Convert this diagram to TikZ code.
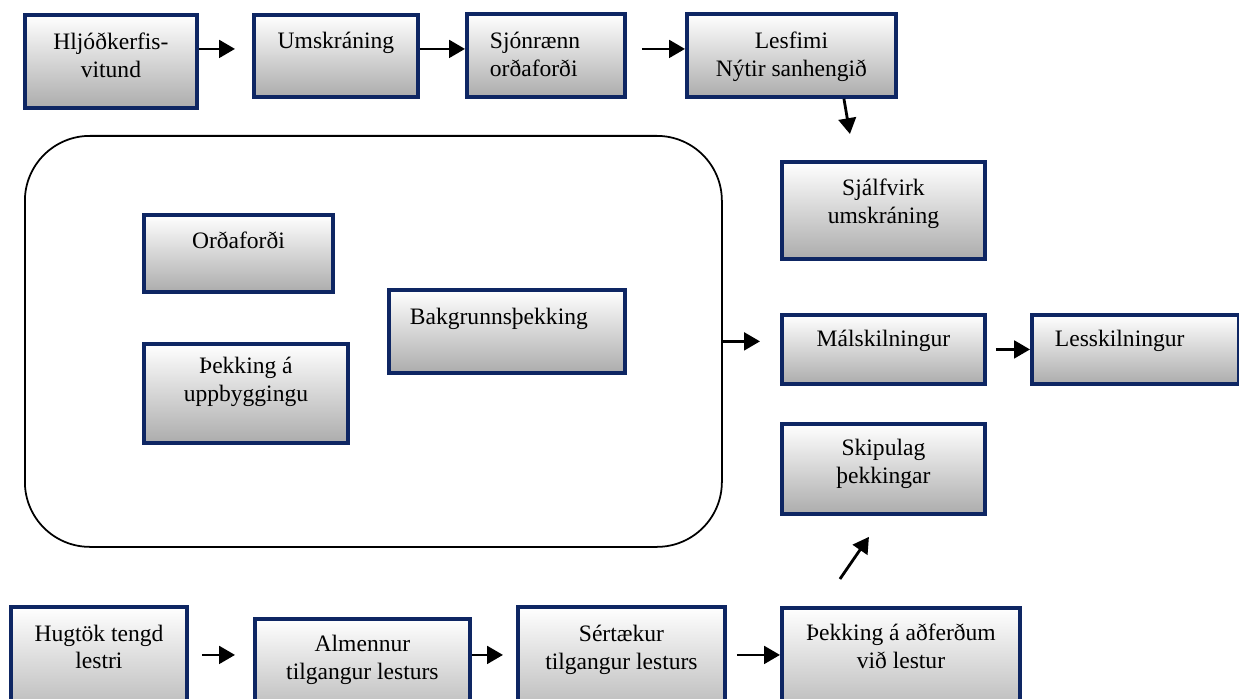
\documentclass[tikz,border=0pt]{standalone}
\usepackage{fontspec}
\setmainfont{Liberation Serif}
\usetikzlibrary{arrows.meta}
\definecolor{boxblue}{RGB}{14,38,99}

\begin{document}
\begin{tikzpicture}[
	box/.style={draw=boxblue, line width=2.2pt, anchor=north west, inner sep=0pt,
		top color=white, middle color=gray!25, bottom color=gray!65,
		align=center, font=\fontsize{13.4}{15.9}\selectfont},
	leftbox/.style={box, align=left, inner xsep=0.46cm},
	arr/.style={-{Triangle[length=9pt,width=10pt]}, line width=1.6pt}]
	\useasboundingbox (0,0) rectangle (24.78,-13.98);
	% big frame
	\node[draw, line width=1pt, rounded corners=1.3cm, anchor=north west,
		minimum width=13.94cm, minimum height=8.22cm] (bg) at (0.48,-2.70) {};
	% top row
	\node[box, minimum width=3.44cm, text height=1.26cm, text depth=0.60cm] (hljod) at (0.46,-0.26) {Hljóðkerfis-\\vitund};
	\node[box, minimum width=3.28cm, text height=0.68cm, text depth=0.96cm] (umskr) at (5.04,-0.26) {Umskráning};
	\node[leftbox, text width=2.24cm, text height=0.70cm, text depth=0.96cm] (sjon) at (9.30,-0.24) {Sjónrænn\\orðaforði};
	\node[box, minimum width=4.18cm, text height=1.26cm, text depth=0.40cm] (lesf) at (13.70,-0.24) {Lesfimi\\Nýtir sanhengið};
	% right column
	\node[box, minimum width=4.06cm, text height=1.24cm, text depth=0.70cm] (sjalf) at (15.60,-3.20) {Sjálfvirk\\umskráning};
	\node[box, minimum width=4.06cm, text height=0.64cm, text depth=0.74cm] (mals) at (15.60,-6.26) {Málskilningur};
	\node[leftbox, text width=3.22cm, text height=0.64cm, text depth=0.74cm] (lessk) at (20.60,-6.26) {Lesskilningur};
	\node[box, minimum width=4.06cm, text height=1.20cm, text depth=0.60cm] (skip) at (15.60,-8.44) {Skipulag\\þekkingar};
	% inside the frame
	\node[box, minimum width=3.78cm, text height=0.68cm, text depth=0.86cm] (ordaf) at (2.84,-4.26) {Orðaforði};
	\node[box, minimum width=4.08cm, text height=1.16cm, text depth=0.82cm] (thekk) at (2.84,-6.84) {Þekking á\\uppbyggingu};
	\node[leftbox, inner xsep=0.42cm, text width=3.88cm, text height=0.70cm, text depth=0.96cm] (bakgr) at (7.74,-5.76) {Bakgrunnsþekking};
	% bottom row
	\node[box, minimum width=3.52cm, text height=1.24cm, text depth=1.26cm] (hugt) at (0.18,-12.10) {Hugtök tengd\\lestri};
	\node[box, minimum width=4.30cm, text height=1.22cm, text depth=1.04cm] (almen) at (5.06,-12.34) {Almennur\\tilgangur lesturs};
	\node[box, minimum width=4.14cm, text height=1.26cm, text depth=1.24cm] (sert) at (10.32,-12.10) {Sértækur\\tilgangur lesturs};
	\node[box, minimum width=4.76cm, text height=1.22cm, text depth=1.26cm] (adfer) at (15.60,-12.12) {Þekking á aðferðum\\við lestur};
	\coordinate (low) at ([yshift=0.5cm]almen.base);
	% arrows
	\draw[arr, shorten >=0.34cm] (hljod.east |- umskr.base) -- (umskr.base west);
	\draw[arr] (umskr.base east) -- (sjon.west |- umskr.base);
	\draw[arr, shorten <=0.30cm] (sjon.east |- umskr.base) -- (lesf.west |- umskr.base);
	\draw[arr] ([xshift=1.05cm]lesf.south) -- ([xshift=-0.67cm,yshift=0.52cm]sjalf.north);
	\draw[arr, shorten >=0.40cm] (bg.east) -- (mals.west |- bg.east);
	\draw[arr, shorten <=0.18cm] (mals.east) -- (lessk.west);
	\draw[arr] ([xshift=-1.22cm,yshift=0.54cm]adfer.north) -- ([xshift=-0.29cm,yshift=-0.42cm]skip.south);
	\draw[arr, shorten <=0.26cm, shorten >=0.36cm] (hugt.east |- low) -- (almen.west |- low);
	\draw[arr, shorten >=0.26cm] (almen.east |- low) -- (sert.west |- low);
	\draw[arr, shorten <=0.20cm] (sert.east |- low) -- (adfer.west |- low);
\end{tikzpicture}
\end{document}
